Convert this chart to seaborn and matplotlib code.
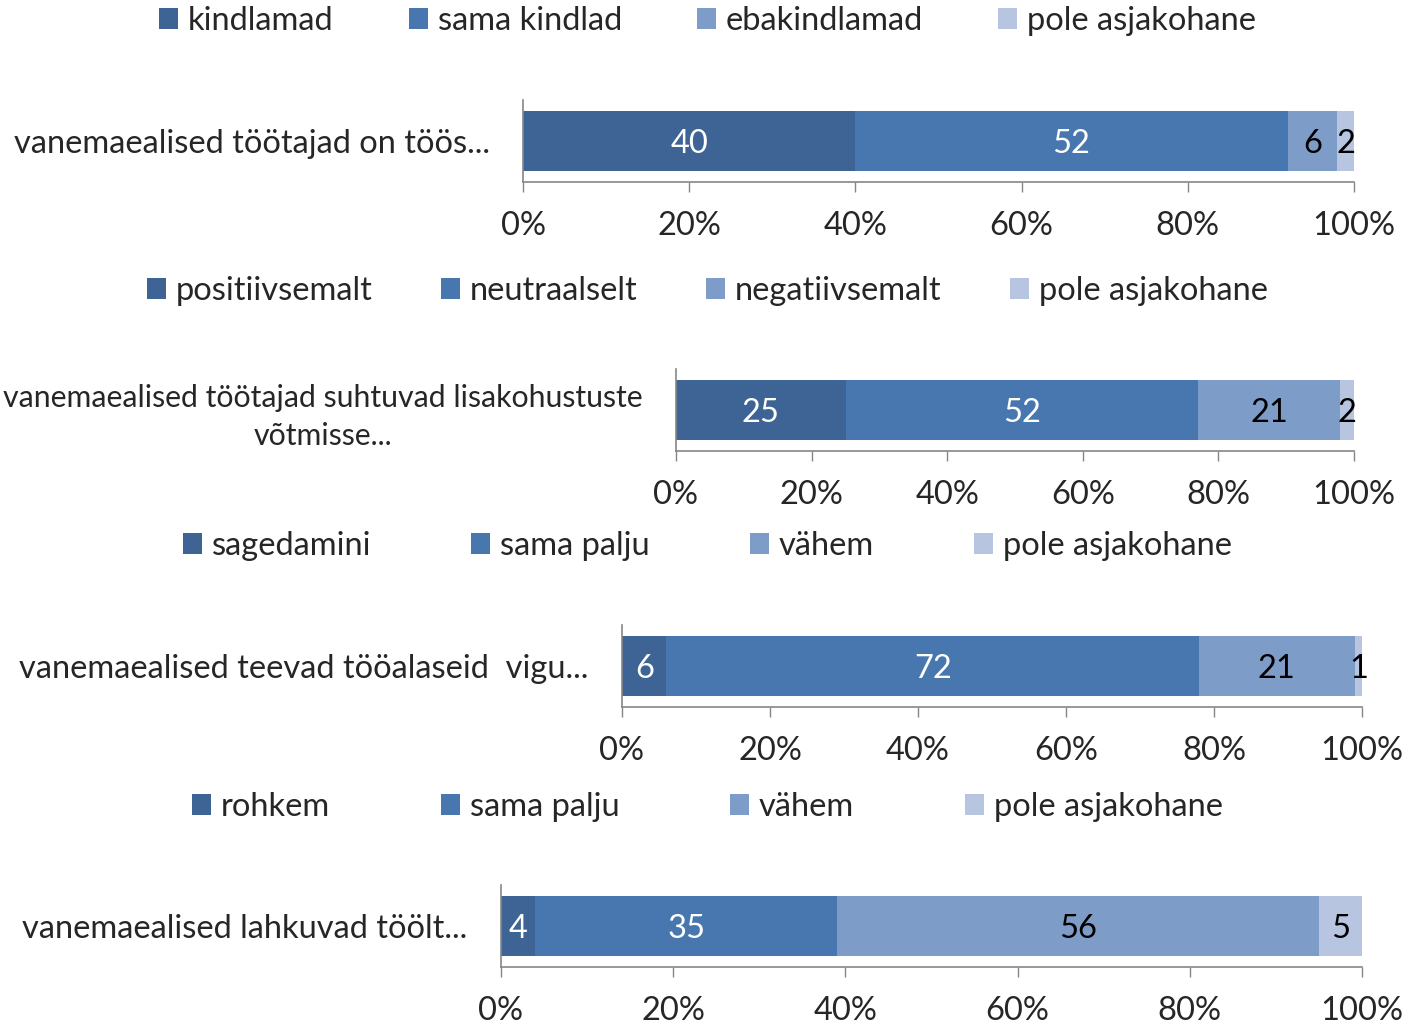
import matplotlib
matplotlib.use('Agg')
import matplotlib.pyplot as plt
import seaborn as sns
import numpy as np
from matplotlib.patches import Patch

sns.set_style('white')
plt.rcParams['font.family'] = ['Lato', 'DejaVu Sans']

# Data for the four questions
questions = [
    'vanemaealised töötajad on töös...',
    'vanemaealised töötajad suhtuvad lisakohustuste\nvõtmisse...',
    'vanemaealised teevad tööalaseid  vigu...',
    'vanemaealised lahkuvad töölt...',
]
legend_labels = [
    ['kindlamad', 'sama kindlad', 'ebakindlamad', 'pole asjakohane'],
    ['positiivsemalt', 'neutraalselt', 'negatiivsemalt', 'pole asjakohane'],
    ['sagedamini', 'sama palju', 'vähem', 'pole asjakohane'],
    ['rohkem', 'sama palju', 'vähem', 'pole asjakohane'],
]
values_q1 = [40, 52, 6, 2]
values_q2 = [25, 52, 21, 2]
values_q3 = [6, 72, 21, 1]
values_q4 = [4, 35, 56, 5]
all_values = [values_q1, values_q2, values_q3, values_q4]
tick_values = [0, 20, 40, 60, 80, 100]
tick_labels = ['0%', '20%', '40%', '60%', '80%', '100%']

colors = ['#3D6494', '#4877B0', '#7E9CC8', '#B7C5E0']
text_colors = ['white', 'white', 'black', 'black']
grey = '#868686'
fs = 23.5

# axes rectangles (pixel edges) and legend positions
W, H = 1415, 1026
boxes = [
    (523, 1354, 100, 182),
    (676, 1354, 369, 451),
    (622, 1362, 625, 707),
    (501, 1362, 885, 967),
]
legend_y = [21, 291, 546, 807]
col_spacing = [2.3, 2.1, 3.07, 3.4]
label_fs = [23.5, 21.8, 23.5, 23.5]

fig = plt.figure(figsize=(W / 100, H / 100), dpi=100)

for i in range(4):
    x0, x1, y0, y1 = boxes[i]
    ax = fig.add_axes([x0 / W, 1 - y1 / H, (x1 - x0) / W, (y1 - y0) / H])
    vals = all_values[i]
    cum = np.cumsum(vals)
    # overlay cumulative bars, longest first
    for j in range(3, -1, -1):
        sns.barplot(x=[cum[j]], y=[questions[i]], color=colors[j], orient='h',
                    width=0.72, saturation=1, linewidth=0, ax=ax)
    starts = cum - np.array(vals)
    for j in range(4):
        ax.text(starts[j] + vals[j] / 2, 0, str(vals[j]), ha='center',
                va='center_baseline', color=text_colors[j], fontsize=fs)
    ax.set_xlim(0, 100)
    ax.set_ylim(0.5, -0.5)
    ax.set_xticks(tick_values)
    ax.set_xticklabels(tick_labels, fontsize=fs)
    ax.set_xlabel('')
    ax.set_ylabel('')
    ax.tick_params(axis='x', direction='out', length=7, width=1, color=grey,
                   pad=14, bottom=True)
    ax.tick_params(axis='y', length=0, pad=24, labelsize=label_fs[i])
    for lab in ax.get_yticklabels():
        lab.set_multialignment('center')
        lab.set_linespacing(1.4)
    for s in ['top', 'right']:
        ax.spines[s].set_visible(False)
    for s in ['left', 'bottom']:
        ax.spines[s].set_color(grey)
        ax.spines[s].set_linewidth(1.2)

    handles = [Patch(facecolor=c, edgecolor='none') for c in colors]
    fig.legend(handles, legend_labels[i], loc='center', ncol=4,
               bbox_to_anchor=(0.5, 1 - legend_y[i] / H), frameon=False,
               fontsize=fs, handlelength=0.58, handleheight=0.58,
               handletextpad=0.3, columnspacing=col_spacing[i])

fig.savefig('out.png', dpi=100)
